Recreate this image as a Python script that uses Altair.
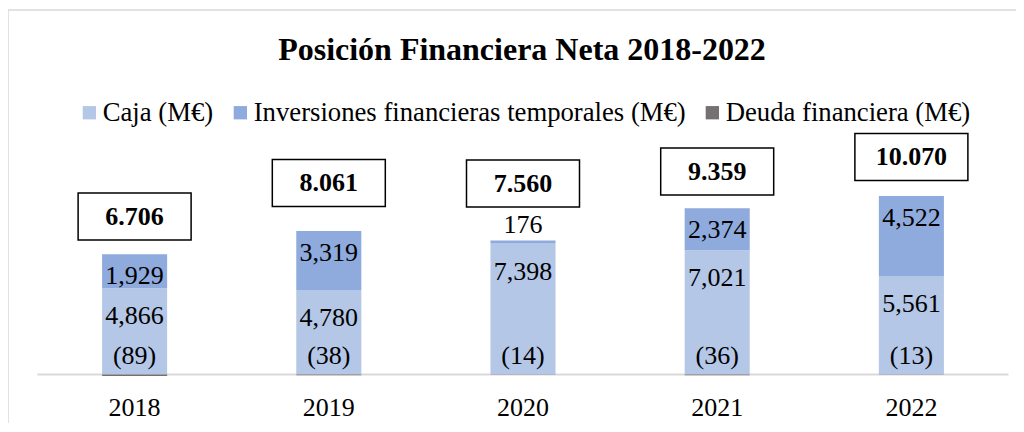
import altair as alt
import pandas as pd

years = ["2018", "2019", "2020", "2021", "2022"]
caja = [4866, 4780, 7398, 7021, 5561]
inversiones = [1929, 3319, 176, 2374, 4522]
deuda = [-89, -38, -14, -36, -13]
neta = [6706, 8061, 7560, 9359, 10070]
# vertical position (in M€) at which each net-position box sits
box_pos = [8921, 10813, 10785, 11463, 12281]

series = ["Caja (M€)", "Inversiones financieras temporales (M€)", "Deuda financiera (M€)"]
colors = ["#B4C7E7", "#8FAADC", "#767171"]
title_text = "Posición Financiera Neta 2018-2022"

rows = []
for i, y in enumerate(years):
    for k, (s, vals) in enumerate(zip(series, [caja, inversiones, deuda])):
        rows.append({"year": y, "serie": s, "value": vals[i], "orden": k})
df = pd.DataFrame(rows)

lab = pd.DataFrame({
    "year": years,
    "caja": caja,
    "inv": inversiones,
    "top": [c + v for c, v in zip(caja, inversiones)],
    "deuda": deuda,
    "zero": [0] * len(years),
    "box": box_pos,
    "caja_t": [f"{v:,}" for v in caja],
    "inv_t": [f"{v:,}" for v in inversiones],
    "deuda_t": [f"({-v})" for v in deuda],
    "neta_t": [f"{v:,}".replace(",", ".") for v in neta],
})

W, H = 971, 257
FONT = "Liberation Serif"

x_enc = alt.X("year:N", title=None,
              scale=alt.Scale(paddingInner=0.665, paddingOuter=0.3325),
              axis=alt.Axis(labelFont=FONT, labelFontSize=26, labelColor="black",
                            labelAngle=0, ticks=False, tickSize=0, domain=False,
                            grid=False, labelPadding=11))
y_scale = alt.Scale(domain=[-500, 14012], nice=False, zero=False)

frame = alt.Chart(pd.DataFrame({"a": [0]})).mark_rect(
    fill="white", fillOpacity=0, stroke="#D9D9D9", strokeWidth=1.5
).encode(x=alt.value(-29.5), x2=alt.value(1200), y=alt.value(-116.4), y2=alt.value(600))

title = alt.Chart(pd.DataFrame({"t": [title_text]})).mark_text(
    font=FONT, fontSize=32, fontWeight="bold", color="black", align="center", baseline="alphabetic"
).encode(text="t:N", x=alt.value(484.5), y=alt.value(-66))

zero_rule = alt.Chart(pd.DataFrame({"z": [0]})).mark_rule(
    color="#D9D9D9", strokeWidth=2
).encode(y=alt.Y("z:Q", scale=y_scale, axis=None), x=alt.value(0), x2=alt.value(W))

bars = alt.Chart(df).mark_bar().encode(
    x=x_enc,
    y=alt.Y("value:Q", stack="zero", scale=y_scale, axis=None),
    color=alt.Color("serie:N", scale=alt.Scale(domain=series, range=colors),
                    legend=alt.Legend(orient="none", legendX=38.5, legendY=-27.5,
                                      direction="horizontal", title=None,
                                      symbolType="square", symbolSize=177,
                                      symbolStrokeWidth=0, labelFont=FONT,
                                      labelFontSize=26.7, labelColor="black",
                                      labelOffset=0, columnPadding=13, padding=0,
                                      labelLimit=1000)),
    order=alt.Order("orden:Q"),
)

txt = dict(font=FONT, fontSize=26, color="black", align="center", baseline="middle")

caja_lbl = alt.Chart(lab).mark_text(dy=28, **txt).encode(
    x=x_enc, y=alt.Y("caja:Q", scale=y_scale, axis=None), text="caja_t:N")
inv_in = alt.Chart(lab).transform_filter("datum.inv >= 1000").mark_text(dy=22, **txt).encode(
    x=x_enc, y=alt.Y("top:Q", scale=y_scale, axis=None), text="inv_t:N")
inv_out = alt.Chart(lab).transform_filter("datum.inv < 1000").mark_text(dy=-15.5, **txt).encode(
    x=x_enc, y=alt.Y("top:Q", scale=y_scale, axis=None), text="inv_t:N")
deuda_lbl = alt.Chart(lab).mark_text(dy=-18.5, **txt).encode(
    x=x_enc, y=alt.Y("zero:Q", scale=y_scale, axis=None), text="deuda_t:N")

box = alt.Chart(lab).mark_point(
    shape="M-1,-0.416L1,-0.416L1,0.416L-1,0.416Z", size=12769,
    fill="white", fillOpacity=1, stroke="black", strokeWidth=1.5, opacity=1
).encode(x=x_enc, y=alt.Y("box:Q", scale=y_scale, axis=None))
box_txt = alt.Chart(lab).mark_text(
    font=FONT, fontSize=26, fontWeight="bold", color="black", align="center", baseline="middle"
).encode(x=x_enc, y=alt.Y("box:Q", scale=y_scale, axis=None), text="neta_t:N")

chart = alt.layer(
    frame, title, zero_rule, bars, caja_lbl, inv_in, inv_out, deuda_lbl, box, box_txt
).properties(
    width=W, height=H,
    padding={"left": 29.5, "top": 118.4, "right": 7, "bottom": 40},
    autosize=alt.AutoSizeParams(type="none"),
    background="white",
).configure_view(stroke="transparent", strokeWidth=0)

chart.save("out.html", embed_options={"renderer": "svg", "actions": False})
